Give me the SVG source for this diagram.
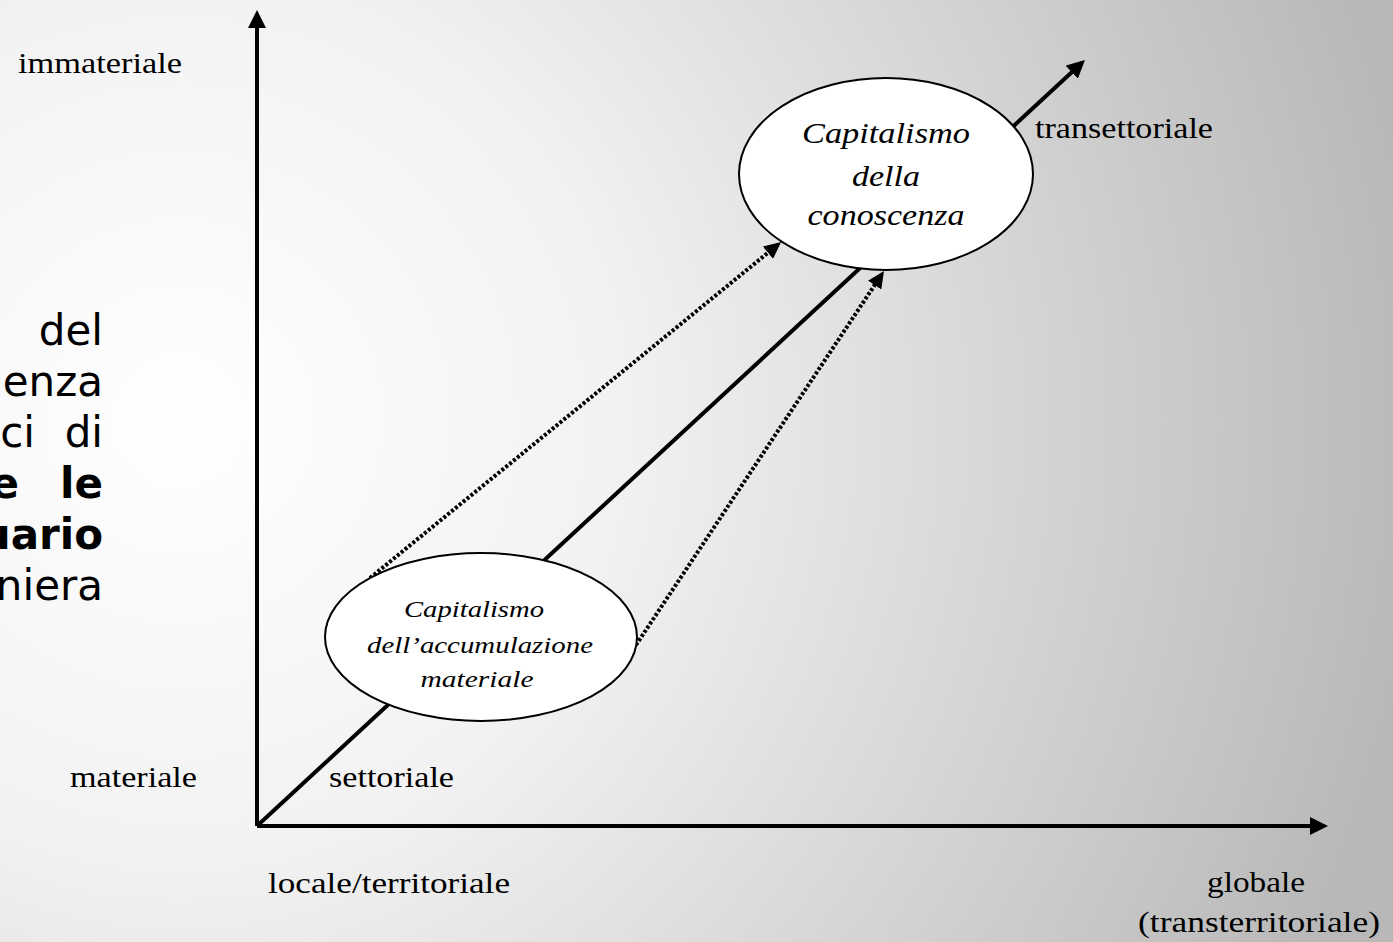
<svg xmlns="http://www.w3.org/2000/svg" width="1393" height="942" viewBox="0 0 1393 942">
  <defs>
    <radialGradient id="bg" gradientUnits="userSpaceOnUse" cx="180" cy="420" r="1250">
      <stop offset="0" stop-color="#ffffff"/>
      <stop offset="0.35" stop-color="#f2f2f2"/>
      <stop offset="1" stop-color="#b8b8b8"/>
    </radialGradient>
    <marker id="arrow" markerUnits="userSpaceOnUse" markerWidth="18" markerHeight="18" refX="14" refY="9" orient="auto">
      <path d="M0,0 L18,9 L0,18 z" fill="#000"/>
    </marker>
    <marker id="arrowDot" markerUnits="userSpaceOnUse" markerWidth="17" markerHeight="16" refX="13" refY="8" orient="auto">
      <path d="M0,0 L17,8 L0,16 z" fill="#000"/>
    </marker>
  </defs>
  <style>
    .side { font-family: "DejaVu Sans", Verdana, sans-serif; font-size: 42px; fill: #000; }
    .bold { font-weight: bold; }
    .lbl { font-family: "Liberation Serif", "Times New Roman", serif; font-size: 29px; fill: #000; }
    .node { fill: #fff; stroke: #000; stroke-width: 2; }
    .big { font-family: "Liberation Serif", "Times New Roman", serif; font-style: italic; font-size: 30px; fill: #000; text-anchor: middle; }
    .small { font-family: "Liberation Serif", "Times New Roman", serif; font-style: italic; font-size: 24px; fill: #000; text-anchor: middle; }
    .axis { stroke: #000; stroke-width: 4; fill: none; }
    .dot { stroke: #000; stroke-width: 4; fill: none; stroke-dasharray: 3 2; }
  </style>

  <rect x="0" y="0" width="1393" height="942" fill="url(#bg)"/>

  <g id="side-text" class="side" text-anchor="end">
    <text x="103" y="345">del</text>
    <text x="103" y="396">enza</text>
    <text x="35" y="447">ci</text>
    <text x="103" y="447">di</text>
    <text x="19" y="498" class="bold">e</text>
    <text x="103" y="498" class="bold">le</text>
    <text x="103" y="549" class="bold">uario</text>
    <text x="103" y="600">niera</text>
  </g>

  <g id="connectors">
    <line class="axis" x1="257" y1="826" x2="257" y2="14" marker-end="url(#arrow)"/>
    <line class="axis" x1="257" y1="826" x2="1324" y2="826" marker-end="url(#arrow)"/>
    <line class="axis" x1="257" y1="826" x2="1082" y2="62.7" marker-end="url(#arrow)" stroke-width="3.5"/>
    <line class="dot" x1="370" y1="578" x2="778" y2="244.5" marker-end="url(#arrowDot)"/>
    <line class="dot" x1="636" y1="645" x2="881.8" y2="274.3" marker-end="url(#arrowDot)"/>
  </g>

  <g id="node-accumulazione">
    <ellipse class="node" cx="481" cy="637" rx="156" ry="84"/>
    <text class="small" x="474" y="617" textLength="140" lengthAdjust="spacingAndGlyphs">Capitalismo</text>
    <text class="small" x="480" y="653" textLength="226" lengthAdjust="spacingAndGlyphs">dell’accumulazione</text>
    <text class="small" x="477" y="687" textLength="113" lengthAdjust="spacingAndGlyphs">materiale</text>
  </g>

  <g id="node-conoscenza">
    <ellipse class="node" cx="886" cy="174" rx="147" ry="96"/>
    <text class="big" x="886" y="143" textLength="168" lengthAdjust="spacingAndGlyphs">Capitalismo</text>
    <text class="big" x="886" y="186" textLength="68" lengthAdjust="spacingAndGlyphs">della</text>
    <text class="big" x="886" y="225" textLength="157" lengthAdjust="spacingAndGlyphs">conoscenza</text>
  </g>

  <g id="axis-labels" class="lbl">
    <text x="18" y="73" textLength="164" lengthAdjust="spacingAndGlyphs">immateriale</text>
    <text x="70" y="787" textLength="127" lengthAdjust="spacingAndGlyphs">materiale</text>
    <text x="329" y="787" textLength="125" lengthAdjust="spacingAndGlyphs">settoriale</text>
    <text x="268" y="893" textLength="242" lengthAdjust="spacingAndGlyphs">locale/territoriale</text>
    <text x="1207" y="892" textLength="98" lengthAdjust="spacingAndGlyphs">globale</text>
    <text x="1138" y="932" textLength="242" lengthAdjust="spacingAndGlyphs">(transterritoriale)</text>
    <text x="1035" y="138" textLength="178" lengthAdjust="spacingAndGlyphs">transettoriale</text>
  </g>
</svg>
